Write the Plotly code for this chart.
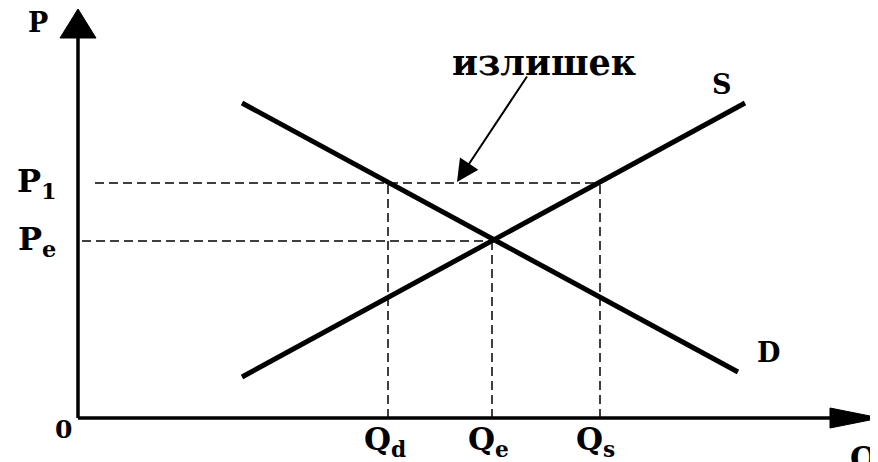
import plotly.graph_objects as go

# supply / demand curves (Q, P) - units measured from the origin of the axes
supply_q = [164, 667]
supply_p = [41, 315]
demand_q = [164, 660]
demand_p = [315, 46]

# equilibrium and surplus levels
price_labels = ["P<sub>1</sub>", "P<sub>e</sub>"]
price_levels = [235, 177]
price_start = [17, 4]
qty_labels = ["Q<sub>d</sub>", "Q<sub>e</sub>", "Q<sub>s</sub>"]
qty_levels = [310, 414, 522]
qty_top = [235, 177, 235]

FONT = "DejaVu Serif"
black = "black"

fig = go.Figure()

fig.add_trace(go.Scatter(x=supply_q, y=supply_p, mode="lines",
                         line=dict(color=black, width=5)))
fig.add_trace(go.Scatter(x=demand_q, y=demand_p, mode="lines",
                         line=dict(color=black, width=5)))

# dashed guide lines
dx, dy = [], []
dx += [price_start[0], qty_levels[2], None]
dy += [price_levels[0], price_levels[0], None]
dx += [price_start[1], qty_levels[1], None]
dy += [price_levels[1], price_levels[1], None]
for q, top in zip(qty_levels, qty_top):
    dx += [q, q, None]
    dy += [0, top, None]
fig.add_trace(go.Scatter(x=dx, y=dy, mode="lines",
                         line=dict(color=black, width=1.5, dash="9px,5px")))

# axes with arrows
y_tip, y_base, x_tip, x_base = 409, 380, 802, 752
shapes = [
    dict(type="line", x0=0, y0=0, x1=0, y1=y_base, line=dict(color=black, width=3.5)),
    dict(type="line", x0=0, y0=0, x1=x_base, y1=0, line=dict(color=black, width=3.5)),
    dict(type="path", path=f"M -18 {y_base} L 0 {y_tip} L 18 {y_base} Z",
         fillcolor=black, line=dict(color=black, width=1)),
    dict(type="path", path=f"M {x_base} -10 L {x_tip} 0 L {x_base} 10 Z",
         fillcolor=black, line=dict(color=black, width=1)),
]

ann = []
def label(x, y, text, size, **kw):
    a = dict(x=x, y=y, text=text, showarrow=False,
             font=dict(family=FONT, size=size, color=black, weight="bold"))
    a.update(kw)
    ann.append(a)

label(-40, 396, "P", 27)
label(-15, -11, "0", 25)
label(770, -20, "Q", 31, xanchor="left", yanchor="top")
for t, p in zip(price_labels, price_levels):
    label(-41, p, t, 32)
for t, q in zip(qty_labels, qty_levels):
    label(q, -23, t, 31, xanchor="left", xshift=-26)
label(644, 334, "S", 27)
label(690, 66, "D", 27)
label(466, 356, "излишек", 35)

ann.append(dict(x=379, y=236, ax=450, ay=343, xref="x", yref="y",
                axref="x", ayref="y", text="", showarrow=True,
                arrowhead=2, arrowsize=2.2, arrowwidth=2, arrowcolor=black))

# the page body adds an 8px margin, so the figure is 8px smaller
fig.update_layout(
    width=870, height=454,
    margin=dict(l=0, r=0, t=0, b=0),
    paper_bgcolor="white", plot_bgcolor="white",
    showlegend=False,
    xaxis=dict(range=[-70, 800], visible=False, fixedrange=True),
    yaxis=dict(range=[-44, 410], visible=False, fixedrange=True),
    shapes=shapes, annotations=ann,
)

fig.write_html("out.html")
